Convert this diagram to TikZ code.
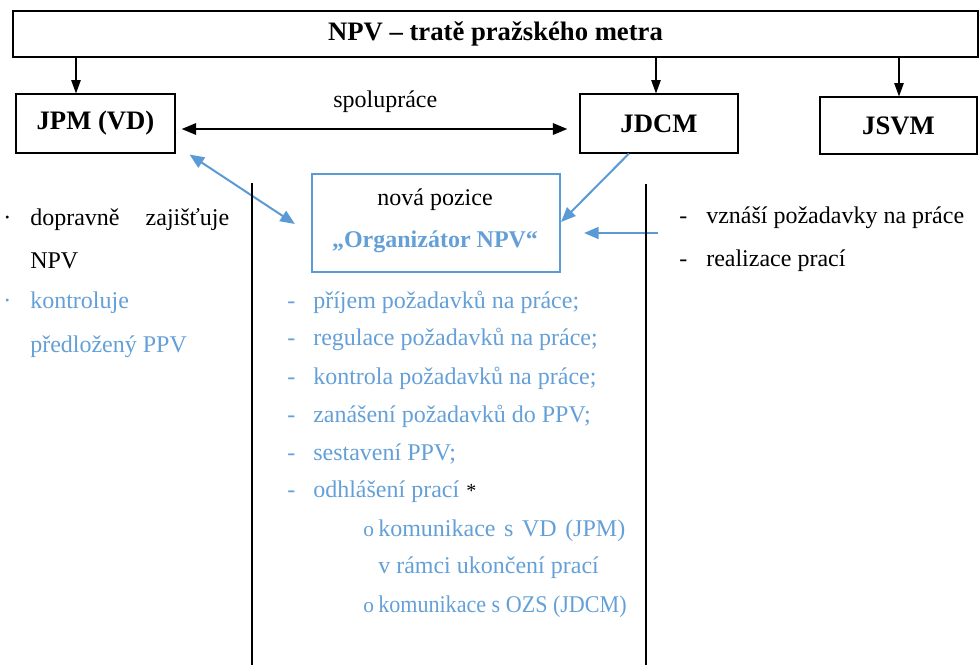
\documentclass[tikz,border=0pt]{standalone}
\usepackage{fontspec}
\usepackage{graphicx}
\setmainfont{Liberation Serif}
\usetikzlibrary{arrows.meta}
\definecolor{ablue}{RGB}{91,155,213}
\definecolor{tblue}{RGB}{100,160,215}
\tikzset{
  box/.style={draw=black, line width=0.8pt, inner sep=0pt, font=\fontsize{20}{24}\selectfont\bfseries},
  orgbox/.style={draw=ablue, line width=1.6pt, inner sep=0pt},
  txt/.style={anchor=base west, inner sep=0pt, font=\fontsize{18}{22}\selectfont},
  btxt/.style={txt, text=tblue},
  down/.style={line width=1.1pt, -{Triangle[width=7pt,length=10pt]}},
  dbl/.style={line width=1.8pt, {Triangle[width=8.5pt,length=11pt]}-{Triangle[width=8.5pt,length=11pt]}},
  barrow/.style={draw=ablue, line width=1.5pt, -{Triangle[width=9pt,length=11pt]}},
  bdbl/.style={draw=ablue, line width=1.5pt, {Triangle[width=9pt,length=11pt]}-{Triangle[width=9pt,length=11pt]}},
  vline/.style={line width=0.8pt}
}
\begin{document}
\begin{tikzpicture}[x=0.75pt,y=-0.75pt]
\useasboundingbox (0,0) rectangle (979,665);
% boxes
\node[box, minimum width=723.75pt, minimum height=34.5pt] (top) at (495.5,34) {NPV – tratě pražského metra};
\node[box, minimum width=119.25pt, minimum height=44.25pt] (jpm) at (95.5,123.5) {JPM (VD)};
\node[box, minimum width=118.5pt, minimum height=44.25pt] (jdcm) at (659,123.5) {JDCM};
\node[box, minimum width=117.75pt, minimum height=42.75pt] (jsvm) at (898.5,125.5) {JSVM};
\node[orgbox, minimum width=186pt, minimum height=73.5pt] (org) at (436,223) {};
% down arrows
\coordinate (d1) at (76,57);
\coordinate (d2) at (656,57);
\coordinate (d3) at (899,57);
\draw[down] (d1) -- (d1 |- jpm.north);
\draw[down] (d2) -- (d2 |- jdcm.north);
\draw[down] (d3) -- (d3 |- jsvm.north);
% cooperation arrow
\draw[dbl] ([shift={(6,5.5)}]jpm.east) -- ([shift={(-12,5.5)}]jdcm.west);
\node[txt] (spol) at (333,107) {spolupráce};
% blue arrows
\draw[bdbl] ([shift={(14,1)}]jpm.south east) -- ([shift={(-16,1)}]org.west);
\draw[barrow] ([shift={(-30,0)}]jdcm.south) -- ([shift={(0,-1)}]org.east);
\coordinate (hs) at (658,233);
\draw[barrow] (hs) -- ([shift={(23,10)}]org.east);
% vertical lines
\coordinate (v1t) at (252,183);
\coordinate (v1b) at (252,665);
\coordinate (v2t) at (646,184);
\coordinate (v2b) at (646,665);
\draw[vline] (v1t) -- (v1b);
\draw[vline] (v2t) -- (v2b);
% org box text
\node[txt, anchor=base] (np) at (435,205) {nová pozice};
\node[txt, anchor=base, text=tblue, font=\fontsize{18}{22}\selectfont\bfseries] (on) at (435,247) {„Organizátor NPV“};
% left column
\node[txt] (lb1) at (3,225) {·};
\node[txt] (l1) at (30,225) {\hbox to 149.25pt{dopravně\hfill zajišťuje}};
\node[txt] (l2) at (30,268) {NPV};
\node[txt, text=tblue] (lb2) at (3,308) {·};
\node[btxt] (l3) at (30,308) {kontroluje};
\node[btxt] (l4) at (30,352) {předložený PPV};
% right column
\node[txt] (rd1) at (679,223) {-};
\node[txt] (r1) at (706,223) {vznáší požadavky na práce};
\node[txt] (rd2) at (679,266) {-};
\node[txt] (r2) at (706,266) {realizace prací};
% middle list
\node[btxt] (md1) at (287,308) {-};
\node[btxt] (m1) at (313,308) {příjem požadavků na práce;};
\node[btxt] (md2) at (287,345) {-};
\node[btxt] (m2) at (313,345) {regulace požadavků na práce;};
\node[btxt] (md3) at (287,384) {-};
\node[btxt] (m3) at (313,384) {kontrola požadavků na práce;};
\node[btxt] (md4) at (287,422) {-};
\node[btxt] (m4) at (313,422) {zanášení požadavků do PPV;};
\node[btxt] (md5) at (287,460) {-};
\node[btxt] (m5) at (313,460) {sestavení PPV;};
\node[btxt] (md6) at (287,497) {-};
\node[btxt] (m6) at (313,497) {odhlášení prací};
\node[txt, font=\fontsize{15}{18}\selectfont] (ast) at ([xshift=5]m6.base east) {*};
\node[btxt, font=\fontsize{16}{18}\selectfont] (so1) at (363,536) {o};
\node[btxt] (s1) at (378,536) {\hbox to 185.25pt{komunikace\hfill\ s\hfill\ VD\hfill\ (JPM)}};
\node[btxt] (s2) at (378,573) {v rámci ukončení prací};
\node[btxt, font=\fontsize{16}{18}\selectfont] (so2) at (363,612) {o};
\node[btxt] (s3) at (378,612) {\scalebox{0.92}[1]{komunikace s OZS (JDCM)}};
\end{tikzpicture}
\end{document}
